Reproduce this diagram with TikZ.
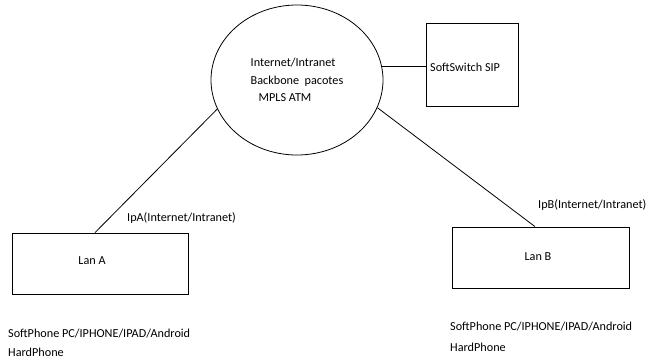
\documentclass[tikz,border=0pt]{standalone}
\usepackage{fontspec}
\setmainfont{Carlito}
\usetikzlibrary{shapes.geometric,calc}
\begin{document}
\begin{tikzpicture}[x=1pt,y=-1pt,
  txt/.style={inner sep=0pt,font=\fontsize{12.2}{17.5}\selectfont},
  box/.style={draw,line width=0.8pt,inner sep=0pt},
  conn/.style={line width=0.8pt}]
\useasboundingbox[fill=white] (0,0) rectangle (649,360);
\node[draw,line width=0.8pt,ellipse,minimum width=172,minimum height=150,inner sep=0pt,
      align=left,font=\fontsize{12.2}{17.5}\selectfont] (ell) at (297,80)
  {Internet/Intranet\\Backbone\ \ pacotes\\\hspace*{8pt}MPLS ATM};
\node[box,minimum width=92,minimum height=83] (ss) at (472,64.5) {};
\node[txt,anchor=west] (sst) at (430,67) {SoftSwitch SIP};
\node[box,minimum width=176,minimum height=61] (lanA) at (100,263.5) {};
\node[txt] (lanAt) at (92,261) {Lan A};
\node[box,minimum width=177,minimum height=61] (lanB) at (540.5,257.5) {};
\node[txt] (lanBt) at (538,257) {Lan B};
\node[txt,anchor=west] (ipa) at (127,218) {IpA(Internet/Intranet)};
\node[txt,anchor=west] (ipb) at (538,205) {IpB(Internet/Intranet)};
\node[txt,anchor=west] (spa) at (8,334) {SoftPhone PC/IPHONE/IPAD/Android};
\node[txt,anchor=west] (hpa) at (8,352) {HardPhone};
\node[txt,anchor=west] (spb) at (450,327) {SoftPhone PC/IPHONE/IPAD/Android};
\node[txt,anchor=west] (hpb) at (450,347) {HardPhone};
\draw[conn] (ell.9) -- (ell.9 -| ss.west);
\draw[conn] (ell.200) -- ([xshift=-5pt]lanA.north);
\draw[conn] (ell.-19) -- ([xshift=-5.5pt]lanB.north);
\end{tikzpicture}
\end{document}
